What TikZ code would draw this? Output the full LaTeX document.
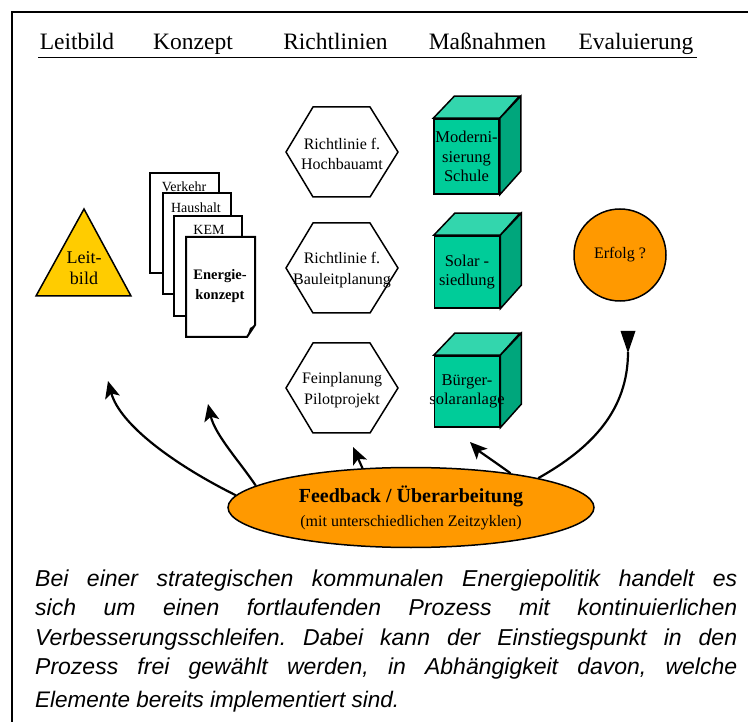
\documentclass[tikz,border=0pt]{standalone}
\usepackage{fontspec}
\setmainfont{Liberation Serif}
\newfontfamily\parafont{Liberation Sans}
\usetikzlibrary{shapes.geometric,arrows.meta,calc}
\definecolor{leitgelb}{HTML}{FFCC00}
\definecolor{orangefill}{HTML}{FF9900}
\definecolor{cubefront}{HTML}{00CC99}
\definecolor{cubetop}{HTML}{33D6AD}
\definecolor{cubeside}{HTML}{00A67C}
\tikzset{
  hdr/.style={anchor=base,font=\fontsize{23.5}{28}\selectfont,inner sep=0},
  hexbox/.style={minimum width=112pt,minimum height=90pt,inner sep=0,align=center,font=\fontsize{16}{20.5}\selectfont},
  hexline/.style={draw,line width=1.5pt,fill=white,line join=miter},
  cubefrontbox/.style={draw,line width=1.5pt,fill=cubefront,minimum width=65pt,inner sep=0},
  cubetext/.style={inner sep=0,align=center,font=\fontsize{16.5}{19.5}\selectfont},
  cubetopface/.style={draw,line width=1.5pt,fill=cubetop,line join=miter},
  cubesideface/.style={draw,line width=1.5pt,fill=cubeside,line join=miter},
  pagebox/.style={draw,line width=2pt,fill=white},
  pagelabel/.style={font=\fontsize{14}{17}\selectfont,inner sep=0},
  fbarrow/.style={line width=2.2pt,-{Stealth[length=17pt,width=15pt,inset=4pt]}},
}
\newcommand\drawhexa[3]{%
  \draw[hexline] (286,#2) -- (313,#2-45) -- (370,#2-45) -- (398,#2) -- (370,#2+45) -- (313,#2+45) -- cycle;
  \node[hexbox] (#1) at (342,#2+2) {#3};}
\newcommand\drawcube[5]{% name, x, y, height, text
  \node[cubefrontbox,minimum height=#4pt] (#1) at (#2,#3) {};
  \draw[cubetopface] (#1.north west) -- ++(21,-22) -- ++(65,0) -- (#1.north east) -- cycle;
  \draw[cubesideface] (#1.north east) -- ++(21,-22) -- ++(0,#4) -- (#1.south east) -- cycle;
  \node[cubetext] (#1text) at (#1.center) {#5};}
\begin{document}
\begin{tikzpicture}[x=1pt,y=-1pt]
\useasboundingbox (0,0) rectangle (748,722);
\fill[white] (0,0) rectangle (748,722);
\draw[line width=1.5pt] (12,722) -- (12,12) -- (748,12);

% header
\node[hdr] (hLeit) at (77,50) {Leitbild};
\node[hdr] (hKonz) at (193,50) {Konzept};
\node[hdr] (hRicht) at (335.5,50) {Richtlinien};
\node[hdr] (hMass) at (487.5,50) {Maßnahmen};
\node[hdr] (hEval) at (636,50) {Evaluierung};
\draw[line width=1.6pt] (38,57.5) -- (697,57.5);

% Leitbild triangle
\draw[line width=1.5pt,fill=leitgelb,line join=miter] (84,209) -- (131,296) -- (36,296) -- cycle;
\node[align=center,inner sep=0,font=\fontsize{18}{21}\selectfont] (leit) at (84,268) {Leit-\\bild};

% document stack
\draw[pagebox] (150,173) rectangle (219,273);
\node[pagelabel] (p1) at (184,187) {Verkehr};
\draw[pagebox] (163,193) rectangle (231,294);
\node[pagelabel] (p2) at (196,208) {Haushalt};
\draw[pagebox] (174,216) rectangle (242,316);
\node[pagelabel] (p3) at (209,230) {KEM};
\draw[pagebox,line join=miter] (186,237) -- (255,237) -- (255,325) -- (247,337) -- (186,337) -- cycle;
\fill (247,337) -- (250,328) -- (255,325) -- cycle;
\node[align=center,inner sep=0,font=\bfseries\fontsize{14.5}{20}\selectfont] (p4) at (220,286) {Energie-\\konzept};

% hexagons
\drawhexa{hex1}{152}{Richtlinie f.\\Hochbauamt}
\drawhexa{hex2}{268}{Richtlinie f.\\Bauleitplanung}
\drawhexa{hex3}{388}{Feinplanung\\Pilotprojekt}

% cubes
\drawcube{cube1}{466.5}{156.5}{75}{Moderni-\\sierung\\Schule}
\drawcube{cube2}{467}{272}{72}{Solar -\\siedlung}
\drawcube{cube3}{467}{391.5}{71}{Bürger-\\solaranlage}

% Erfolg
\node[circle,draw,line width=1.5pt,fill=orangefill,minimum size=92pt,inner sep=0,font=\fontsize{16}{19}\selectfont] (erf) at (620,255) {Erfolg ?};

% feedback ellipse
\node[ellipse,draw,line width=1.5pt,fill=orangefill,minimum width=366pt,minimum height=80pt,inner sep=0,align=center,font=\fontsize{16}{24}\selectfont] (fb) at (411,507.5)
  {{\bfseries\fontsize{20}{24}\selectfont Feedback / Überarbeitung}\\(mit unterschiedlichen Zeitzyklen)};

% feedback arrows
\coordinate (a1) at (108,381);
\coordinate (a2) at (208,404);
\coordinate (a3) at (353,447);
\coordinate (a4) at (470,442);
\coordinate (a5) at (628,352);
\draw[fbarrow] (fb.176) .. controls (175,465) and (120,425) .. (a1);
\draw[fbarrow] (fb.172) .. controls (240,462) and (215,435) .. (a2);
\draw[fbarrow] (fb.141) -- (a3);
\draw[fbarrow] (fb.19) .. controls (495,462) and (480,452) .. (a4);
\draw[line width=2.2pt] (fb.13) .. controls (592,448) and (628,410) .. (a5);
\fill (620.5,331) -- (635.5,331) -- (628,353) -- cycle;

% text
\node[anchor=base west,inner sep=0] (para) at (35,586)
  {\parbox[t]{702pt}{\frenchspacing\parafont\itshape\fontsize{23}{29.5}\selectfont\parfillskip=0pt
  Bei einer strategischen kommunalen Energiepolitik handelt es\linebreak
  sich um einen fortlaufenden Prozess mit kontinuierlichen\linebreak
  Verbesserungsschleifen. Dabei kann der Einstiegspunkt in den\linebreak
  Prozess frei gewählt werden, in Abhängigkeit davon, welche}};
\node[anchor=base west,inner sep=0,font=\parafont\itshape\fontsize{22.5}{25}\selectfont] (lastline) at (35,707) {Elemente bereits implementiert sind.};
\end{tikzpicture}
\end{document}
